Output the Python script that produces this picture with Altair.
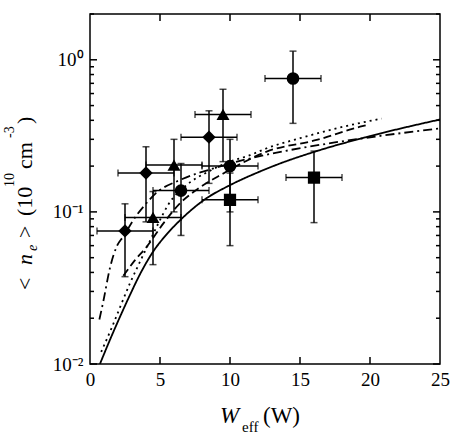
import altair as alt
import pandas as pd

# ---------------- data ----------------
diamond_x = [2.5, 4.0, 8.5]
diamond_y = [0.075, 0.18, 0.31]
diamond_ylo = [0.0375, 0.086, 0.154]
diamond_yhi = [0.113, 0.268, 0.462]

triangle_x = [4.5, 6.0, 9.5]
triangle_y = [0.092, 0.203, 0.437]
triangle_ylo = [0.045, 0.10, 0.214]
triangle_yhi = [0.136, 0.30, 0.64]

circle_x = [6.5, 10.0, 14.5]
circle_y = [0.138, 0.20, 0.753]
circle_ylo = [0.07, 0.10, 0.382]
circle_yhi = [0.208, 0.30, 1.14]

square_x = [10.0, 16.0]
square_y = [0.12, 0.168]
square_ylo = [0.06, 0.085]
square_yhi = [0.18, 0.251]

x_err = 2.0

solid_x = [0.71, 1.43, 2.14, 2.86, 3.57, 4.52, 5.5, 6.55, 8.1, 10.05, 12, 13.57, 16.07, 20, 25]
solid_y = [0.01, 0.01445, 0.0204, 0.0285, 0.0389, 0.055, 0.0716, 0.0902, 0.119, 0.1507, 0.182, 0.208, 0.249, 0.315, 0.405]

dotted_x = [0.8, 1.55, 2.86, 3.57, 4.3, 4.88, 5.6, 6.9, 8.5, 10, 11.43, 12.62, 15, 17.38, 20.83]
dotted_y = [0.012, 0.0173, 0.034, 0.047, 0.065, 0.084, 0.112, 0.15, 0.185, 0.214, 0.236, 0.262, 0.305, 0.35, 0.411]

dashed_x = [2.38, 3.2, 4.05, 5.24, 6.43, 7.62, 9.52, 10.24, 12.62, 16.19, 19.29, 19.9]
dashed_y = [0.038, 0.048, 0.059, 0.084, 0.114, 0.14, 0.179, 0.195, 0.249, 0.297, 0.363, 0.375]

dashdot_x = [0.67, 0.95, 1.43, 1.9, 2.38, 3.33, 3.81, 4.76, 6.43, 8.81, 11.19, 13.8, 17.38, 20.95, 25]
dashdot_y = [0.0196, 0.0258, 0.043, 0.059, 0.069, 0.095, 0.108, 0.134, 0.162, 0.193, 0.222, 0.25, 0.285, 0.318, 0.354]

x_labels = [0, 5, 10, 15, 20, 25]
x_ticks = [5, 10, 15, 20]
y_major = [0.01, 0.1, 1]
y_minor = [0.02, 0.03, 0.04, 0.05, 0.06, 0.07, 0.08, 0.09,
           0.2, 0.3, 0.4, 0.5, 0.6, 0.7, 0.8, 0.9, 2]

# ---------------- tables ----------------
rows = []
for kind, xs, ys, lo, hi in [
    ("diamond", diamond_x, diamond_y, diamond_ylo, diamond_yhi),
    ("triangle-up", triangle_x, triangle_y, triangle_ylo, triangle_yhi),
    ("circle", circle_x, circle_y, circle_ylo, circle_yhi),
    ("square", square_x, square_y, square_ylo, square_yhi),
]:
    for x, y, l, h in zip(xs, ys, lo, hi):
        rows.append(dict(kind=kind, x=x, y=y, ylo=l, yhi=h, xlo=x - x_err, xhi=x + x_err))
pts = pd.DataFrame(rows)

ycaps = pd.concat([pts[["x", "ylo"]].rename(columns={"ylo": "yc"}),
                   pts[["x", "yhi"]].rename(columns={"yhi": "yc"})])
xcaps = pd.concat([pts[["y", "xlo"]].rename(columns={"xlo": "xc"}),
                   pts[["y", "xhi"]].rename(columns={"xhi": "xc"})])

lines = pd.concat([
    pd.DataFrame(dict(series="solid", x=solid_x, y=solid_y)),
    pd.DataFrame(dict(series="dotted", x=dotted_x, y=dotted_y)),
    pd.DataFrame(dict(series="dashed", x=dashed_x, y=dashed_y)),
    pd.DataFrame(dict(series="dashdot", x=dashdot_x, y=dashdot_y)),
])

W = 350
H = 350
FONT = "Liberation Serif"
MAJ, MIN = 7, 4

xscale = alt.Scale(domain=[0, 25], nice=False, zero=False)
yscale = alt.Scale(type="log", domain=[0.01, 2], nice=False)

x_label_axis = alt.Axis(orient="bottom", values=x_labels, tickColor="transparent", tickSize=5,
                        domain=False, grid=False, labelFont=FONT, labelFontSize=19,
                        labelColor="black", labelPadding=1, title=None, labelFlush=False)
y_label_axis = alt.Axis(orient="left", values=y_major, tickColor="transparent", tickSize=5,
                        domain=False, grid=False, labelFont=FONT, labelFontSize=19,
                        labelColor="black", labelPadding=2, title=None, labelFlush=False,
                        labelExpr="datum.value == 1 ? '10⁰' : (datum.value == 0.1 ? '10⁻¹' : '10⁻²')")

line_layer = alt.Chart(lines).mark_line(clip=True, strokeWidth=1.8, color="black",
                                         interpolate="monotone").encode(
    x=alt.X("x:Q", scale=xscale, axis=x_label_axis),
    y=alt.Y("y:Q", scale=yscale, axis=y_label_axis),
    strokeDash=alt.StrokeDash("series:N", legend=None,
                              scale=alt.Scale(domain=["solid", "dotted", "dashed", "dashdot"],
                                              range=[[1, 0], [2, 4], [8, 4], [9, 4, 2, 4]])),
    detail="series:N",
)

# inward ticks on all four sides, drawn through the same scales
tick_style = dict(strokeWidth=1.5, color="black")
xt = pd.DataFrame(dict(v=x_ticks))
ymaj = pd.DataFrame(dict(v=y_major))
ymin = pd.DataFrame(dict(v=y_minor))

tick_layers = [
    alt.Chart(xt).mark_rule(**tick_style).encode(
        x=alt.X("v:Q", scale=xscale, axis=None), y=alt.value(H), y2=alt.value(H - MAJ)),
    alt.Chart(xt).mark_rule(**tick_style).encode(
        x=alt.X("v:Q", scale=xscale, axis=None), y=alt.value(0), y2=alt.value(MAJ)),
]
for df, ln in [(ymaj, MAJ), (ymin, MIN)]:
    tick_layers.append(alt.Chart(df).mark_rule(**tick_style).encode(
        y=alt.Y("v:Q", scale=yscale, axis=None), x=alt.value(0), x2=alt.value(ln)))
    tick_layers.append(alt.Chart(df).mark_rule(**tick_style).encode(
        y=alt.Y("v:Q", scale=yscale, axis=None), x=alt.value(W), x2=alt.value(W - ln)))

hbar = alt.Chart(pts).mark_rule(strokeWidth=1.5, color="black").encode(
    x=alt.X("xlo:Q", scale=xscale, axis=None),
    x2="xhi:Q",
    y=alt.Y("y:Q", scale=yscale, axis=None),
)

vbar = alt.Chart(pts).mark_rule(strokeWidth=1.5, color="black").encode(
    x=alt.X("x:Q", scale=xscale, axis=None),
    y=alt.Y("ylo:Q", scale=yscale, axis=None),
    y2="yhi:Q",
)

ycap_layer = alt.Chart(ycaps).mark_tick(orient="horizontal", size=7, thickness=1.5, color="black").encode(
    x=alt.X("x:Q", scale=xscale, axis=None),
    y=alt.Y("yc:Q", scale=yscale, axis=None),
)
xcap_layer = alt.Chart(xcaps).mark_tick(orient="vertical", size=7, thickness=1.5, color="black").encode(
    x=alt.X("xc:Q", scale=xscale, axis=None),
    y=alt.Y("y:Q", scale=yscale, axis=None),
)

kinds = ["diamond", "triangle-up", "circle", "square"]
point_layer = alt.Chart(pts).mark_point(filled=True, color="black", opacity=1).encode(
    x=alt.X("x:Q", scale=xscale, axis=None),
    y=alt.Y("y:Q", scale=yscale, axis=None),
    shape=alt.Shape("kind:N", legend=None, scale=alt.Scale(domain=kinds, range=kinds)),
    size=alt.Size("kind:N", legend=None, scale=alt.Scale(domain=kinds, range=[180, 150, 125, 110])),
)

def txt(s, x, y, size, angle=0, italic=False):
    kw = dict(text=s, font=FONT, fontSize=size, color="black", align="left", baseline="alphabetic")
    if angle:
        kw["angle"] = angle
    if italic:
        kw["fontStyle"] = "italic"
    return alt.Chart(alt.Data(values=[{}])).mark_text(**kw).encode(
        x=alt.value(x), y=alt.value(y))

L, T = 90, 14
YB = 32   # baseline of rotated main title text
titles = [
    txt("W", 220 - L, 423 - T, 23, italic=True),
    txt("eff", 242 - L, 432 - T, 15),
    txt("(W)", 263 - L, 423 - T, 23),
    txt("<", YB - L, 290 - T, 22, angle=270),
    txt("n", YB - L, 265 - T, 22, angle=270, italic=True),
    txt("e", YB + 5 - L, 251 - T, 14, angle=270, italic=True),
    txt(">", YB - L, 238 - T, 22, angle=270),
    txt("(10", YB - L, 216 - T, 22, angle=270),
    txt("10", YB - 18 - L, 187 - T, 14, angle=270),
    txt("cm", YB - L, 169 - T, 22, angle=270),
    txt("-3", YB - 18 - L, 138 - T, 14, angle=270),
    txt(")", YB - L, 124 - T, 22, angle=270),
]

chart = alt.layer(line_layer, *tick_layers, hbar, vbar, ycap_layer, xcap_layer, point_layer,
                  *titles).resolve_axis(
    x="independent", y="independent"
).properties(
    width=W, height=H,
    background="white",
    autosize=alt.AutoSizeParams(type="none"),
    padding={"left": L, "top": T, "right": 454 - L - W, "bottom": 441 - T - H},
).configure_view(stroke="black", strokeWidth=1.5)

chart.save("out.html", embed_options={"renderer": "svg", "actions": False})
